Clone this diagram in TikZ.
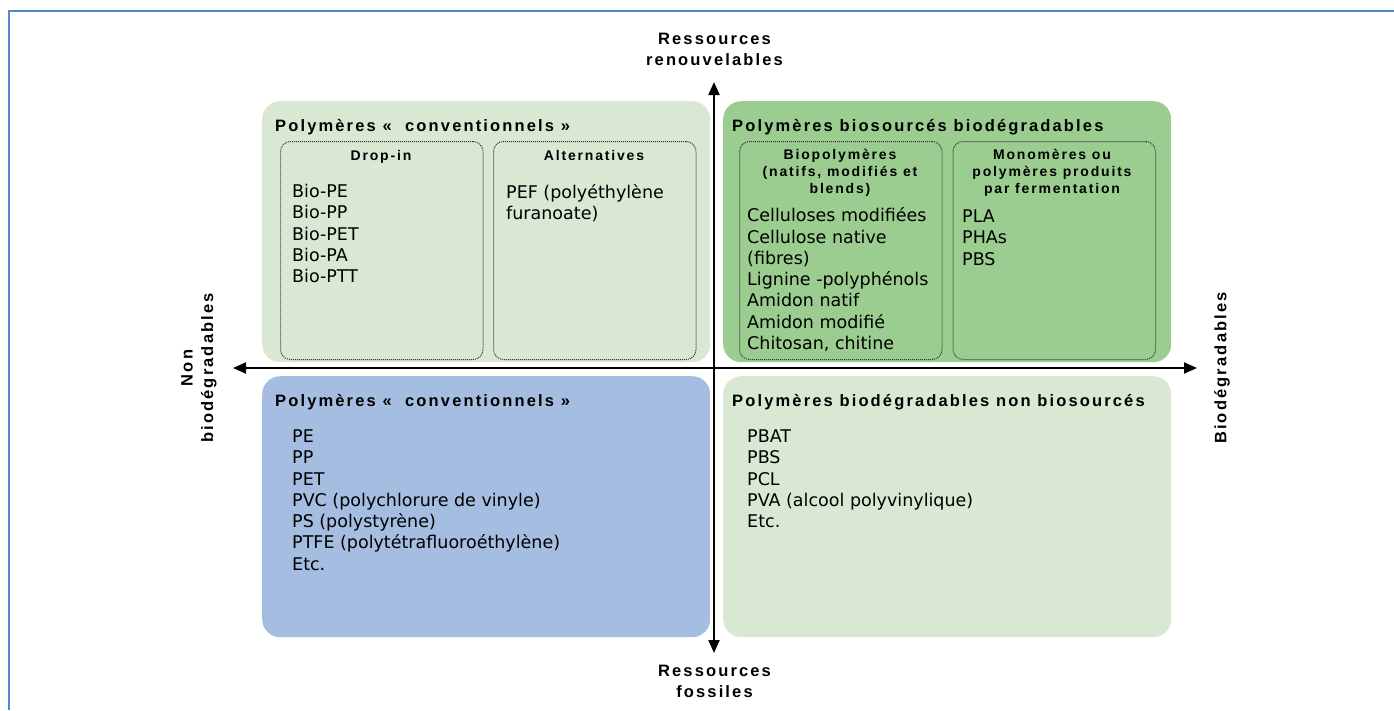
\documentclass[tikz,border=0pt]{standalone}
\usepackage{fontspec}
\setmainfont{DejaVu Sans}
\newfontfamily\headfont{Liberation Sans}[LetterSpace=13]
\usepackage{xcolor}
\usetikzlibrary{arrows.meta,positioning}

\definecolor{palegreen}{RGB}{217,232,211}
\definecolor{midgreen}{RGB}{154,205,143}
\definecolor{paleblue}{RGB}{165,189,225}
\definecolor{framecol}{RGB}{84,138,204}

\begin{document}
\begin{tikzpicture}[x=1pt,y=-1pt,
    quad/.style={rounded corners=18pt,minimum width=448pt,minimum height=261pt,
      anchor=north west,inner sep=0pt},
    subbox/.style={draw=black!80,dash pattern=on 1pt off 1pt,line width=1pt,
      rounded corners=10pt,minimum width=202.5pt,minimum height=218pt,inner sep=0pt},
    title/.style={font=\headfont\bfseries\fontsize{16.5}{20}\selectfont,
      anchor=base west,inner sep=0pt},
    subtitle/.style={font=\headfont\bfseries\fontsize{14}{17}\selectfont,
      align=center,inner sep=0pt},
    items/.style={font=\fontsize{17.5}{21.3}\selectfont,align=left,
      anchor=north west,inner sep=0pt},
    axislabel/.style={font=\headfont\bfseries\fontsize{16.5}{20.5}\selectfont,
      align=center,inner sep=0pt},
    axis/.style={line width=2pt,
      {Triangle[length=13pt,width=11pt]}-{Triangle[length=13pt,width=11pt]}}]
        \useasboundingbox (0,0) rectangle (1394,710);
        \draw[framecol,line width=2pt] (9,710) -- (9,11) -- (1394,11);
        % the four quadrants
        \node[quad,fill=palegreen] (renewnb) at (262,101) {};
        \node[quad,fill=midgreen] (renewb) at (723,101) {};
        \node[quad,fill=paleblue] (fossilnb) at (262,376) {};
        \node[quad,fill=palegreen] (fossilb) at (723,376) {};
        % dotted sub-boxes
        \node[subbox,anchor=north west] (dropin) at (280,141) {};
        \node[subbox,right=9.5pt of dropin] (altern) {};
        \node[subbox,anchor=north west] (biopol) at (739,141) {};
        \node[subbox,right=10pt of biopol] (monom) {};
        % titles
        \node[title] (trenewnb) at (275,131.5) {Polymères «~~conventionnels »};
        \node[title] (trenewb) at (732,131.5) {Polymères biosourcés biodégradables};
        \node[title] (tfossilnb) at (275,406.5) {Polymères «~~conventionnels »};
        \node[title] (tfossilb) at (732,406.5) {Polymères biodégradables non biosourcés};
        \node[subtitle,anchor=base] (hdropin) at (381,160) {Drop-in};
        \node[subtitle,anchor=base] (haltern) at (594,160) {Alternatives};
        \node[subtitle,anchor=north] (hbiopol) at (840,149)
          {Biopolymères\\(natifs, modifiés et\\blends)};
        \node[subtitle,anchor=north] (hmonom) at (1052,149)
          {Monomères ou\\polymères produits\\par fermentation};
        % lists
        \node[items] (ldropin) at (292,184) {Bio-PE\\Bio-PP\\Bio-PET\\Bio-PA\\Bio-PTT};
        \node[items] (laltern) at (506,184) {PEF (polyéthylène\\furanoate)};
        \node[items] (lbiopol) at (747,207.5) {Celluloses modifiées\\Cellulose native\\(fibres)\\
          Lignine -polyphénols\\Amidon natif\\Amidon modifié\\Chitosan, chitine};
        \node[items] (lmonom) at (962,209.5) {PLA\\PHAs\\PBS};
        \node[items] (lfossilnb) at (292,429.5) {PE\\PP\\PET\\PVC (polychlorure de vinyle)\\
          PS (polystyrène)\\PTFE (polytétrafluoroéthylène)\\Etc.};
        \node[items] (lfossilb) at (747,429.5) {PBAT\\PBS\\PCL\\PVA (alcool polyvinylique)\\Etc.};
        % axes
        \coordinate (renew) at (714,82);
        \coordinate (fossil) at (714,653);
        \coordinate (nonbio) at (233,368);
        \coordinate (bio) at (1197,368);
        \draw[axis] (fossil) -- (renew);
        \draw[axis] (nonbio) -- (bio);
        \node[axislabel,anchor=north] (lrenew) at (714.5,33) {Ressources\\renouvelables};
        \node[axislabel,anchor=north] (lfossil) at (714.5,665) {Ressources\\fossiles};
        \node[axislabel,rotate=90] (lnonbio) at (199,368) {Non\\biodégradables};
        \node[axislabel,rotate=90] (lbio) at (1222,368) {Biodégradables};
\end{tikzpicture}
\end{document}
